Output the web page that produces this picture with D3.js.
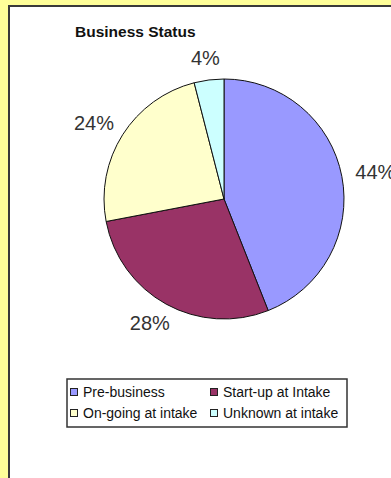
<!DOCTYPE html>
<html>
<head>
<meta charset="utf-8">
<script src="https://cdn.jsdelivr.net/npm/d3@7"></script>
<style>
  html, body { margin: 0; padding: 0; background: #ffff99; }
  svg { display: block; font-family: "Liberation Sans", Arial, sans-serif; }
</style>
</head>
<body>
<svg id="chart" width="391" height="478"></svg>
<script>
// Business status pie, old Excel look: yellow sheet, white chart panel,
// outside percent labels and a boxed two-column legend.

const categories = ["Pre-business", "Start-up at Intake", "On-going at intake", "Unknown at intake"];
const values = [44, 28, 24, 4];
const colors = ["#9999ff", "#993366", "#ffffcc", "#ccffff"];

const W = 391, H = 478;
const CX = 224, CY = 199, R = 120;

const svg = d3.select("#chart");

// sheet + panel
svg.append("rect").attr("width", W).attr("height", H).attr("fill", "#ffff99");
svg.append("rect")
  .attr("x", 9).attr("y", 6).attr("width", W).attr("height", H)
  .attr("fill", "#fff")
  .attr("stroke", "#3a3a3a").attr("stroke-width", 2);

svg.append("text")
  .attr("x", 75).attr("y", 37)
  .attr("font-size", 15.5).attr("font-weight", "bold")
  .attr("fill", "#111")
  .text("Business Status");

const pie = d3.pie().sort(null).value(d => d);
const arcs = pie(values);
const arc = d3.arc().innerRadius(0).outerRadius(R);

const g = svg.append("g").attr("transform", `translate(${CX},${CY})`);

g.selectAll("path")
  .data(arcs)
  .enter().append("path")
  .attr("d", arc)
  .attr("fill", (d, i) => colors[i])
  .attr("stroke", "#111")
  .attr("stroke-width", 1);

// labels: box sits just outside the rim, pushed out along the slice direction
const total = d3.sum(values);
const GAP = 14;
g.selectAll("text.lbl")
  .data(arcs)
  .enter().append("text")
  .attr("class", "lbl")
  .attr("font-size", 20)
  .attr("fill", "#333")
  .attr("text-anchor", "middle")
  .attr("dominant-baseline", "central")
  .text(d => Math.round(d.value / total * 100) + "%")
  .each(function(d) {
    const a = (d.startAngle + d.endAngle) / 2;
    const ux = Math.sin(a), uy = -Math.cos(a);
    const hw = this.getComputedTextLength() / 2, hh = 8;
    const x = (R + GAP) * ux + hw * ux;
    const y = (R + GAP) * uy + hh * uy;
    d3.select(this).attr("x", x).attr("y", y);
  });

// legend
const LX = 67, LY = 379, LW = 280, LH = 48;
const legend = svg.append("g");
legend.append("rect")
  .attr("x", LX).attr("y", LY).attr("width", LW).attr("height", LH)
  .attr("fill", "#fff").attr("stroke", "#333").attr("stroke-width", 1.5);

const colX = d3.scaleOrdinal().domain([0, 1]).range([70, 210]);
const rowY = d3.scaleOrdinal().domain([0, 1]).range([392, 413]);

const items = legend.selectAll("g.item")
  .data(categories)
  .enter().append("g")
  .attr("class", "item")
  .attr("transform", (d, i) => `translate(${colX(i % 2)},${rowY(Math.floor(i / 2))})`);

items.append("rect")
  .attr("x", 0.5).attr("y", -3.5).attr("width", 7).attr("height", 7)
  .attr("fill", (d, i) => colors[i])
  .attr("stroke", "#222").attr("stroke-width", 1);

items.append("text")
  .attr("x", 13).attr("y", 0)
  .attr("dominant-baseline", "central")
  .attr("font-size", 14)
  .attr("fill", "#111")
  .text(d => d);
</script>
</body>
</html>
